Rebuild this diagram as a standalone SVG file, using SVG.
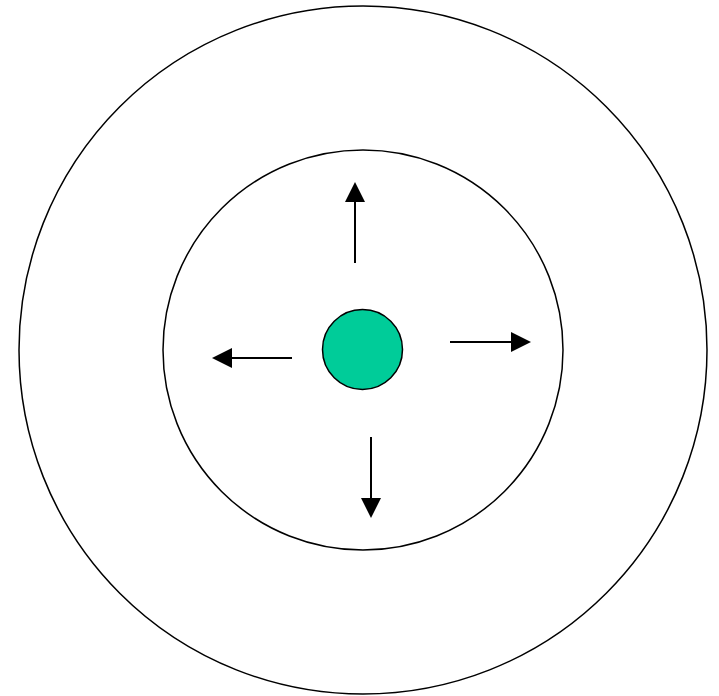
<svg xmlns="http://www.w3.org/2000/svg" width="719" height="696" viewBox="0 0 719 696">
<style>
.ring{fill:none;stroke:#000;stroke-width:1.5}
.core{fill:#00CC99;stroke:#000;stroke-width:1.5}
.arr{stroke:#000;stroke-width:2;fill:none}
</style>
<defs>
<marker id="ah" markerWidth="20" markerHeight="20" refX="0" refY="10" orient="auto" markerUnits="userSpaceOnUse">
<path d="M0,0 L20,10 L0,20 Z" fill="#000"/>
</marker>
</defs>
<rect width="719" height="696" fill="#fff"/>
<g id="outer"><circle class="ring" cx="363" cy="350" r="344"/></g>
<g id="inner"><circle class="ring" cx="363" cy="350" r="200"/></g>
<g id="core"><circle class="core" cx="362.5" cy="349.5" r="40"/></g>
<g id="connectors">
<line class="arr" x1="355" y1="263" x2="355" y2="202" marker-end="url(#ah)"/>
<line class="arr" x1="292" y1="358" x2="232" y2="358" marker-end="url(#ah)"/>
<line class="arr" x1="450" y1="342" x2="511" y2="342" marker-end="url(#ah)"/>
<line class="arr" x1="371" y1="437" x2="371" y2="498" marker-end="url(#ah)"/>
</g>
</svg>
